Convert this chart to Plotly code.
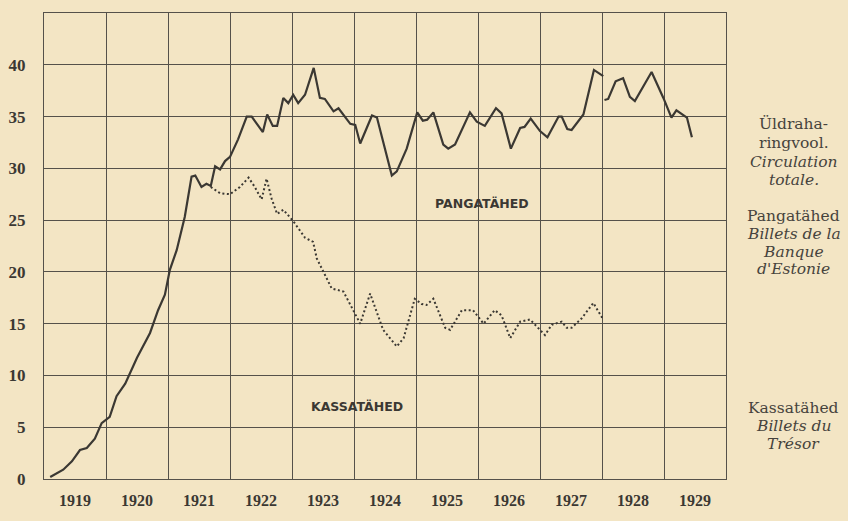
import plotly.graph_objects as go

# Total circulation (Üldraharingvool), million, by decimal year
total_x = [1919.10, 1919.31, 1919.45, 1919.58, 1919.69, 1919.82, 1919.93, 1920.06, 1920.17, 1920.31,
           1920.50, 1920.71, 1920.84, 1920.95, 1921.03, 1921.14, 1921.27, 1921.38, 1921.44, 1921.54,
           1921.62, 1921.69, 1921.76, 1921.84, 1921.92, 1922.00, 1922.13, 1922.27, 1922.35, 1922.53,
           1922.60, 1922.69, 1922.76, 1922.86, 1922.94, 1923.02, 1923.10, 1923.21, 1923.35, 1923.45,
           1923.53, 1923.67, 1923.75, 1923.94, 1924.02, 1924.10, 1924.29, 1924.37, 1924.61, 1924.69,
           1924.85, 1925.02, 1925.11, 1925.18, 1925.28, 1925.44, 1925.52, 1925.63, 1925.87, 1925.98,
           1926.11, 1926.29, 1926.38, 1926.53, 1926.68, 1926.75, 1926.85, 1927.00, 1927.12, 1927.30,
           1927.35, 1927.44, 1927.51, 1927.70, 1927.87, 1928.02, 1928.03, 1928.04, 1928.10, 1928.22,
           1928.34, 1928.45, 1928.53, 1928.80, 1928.99, 1929.12, 1929.20, 1929.37, 1929.45]
total_y = [0.2, 0.9, 1.7, 2.8, 3.0, 3.9, 5.4, 6.0, 8.0, 9.2,
           11.7, 14.1, 16.3, 17.8, 20.2, 22.1, 25.3, 29.2, 29.3, 28.2,
           28.5, 28.3, 30.2, 29.9, 30.7, 31.1, 32.8, 35.0, 35.0, 33.5,
           35.2, 34.1, 34.1, 36.8, 36.3, 37.1, 36.3, 37.1, 39.7, 36.8,
           36.7, 35.5, 35.8, 34.3, 34.2, 32.4, 35.1, 34.9, 29.3, 29.7,
           31.9, 35.4, 34.6, 34.7, 35.4, 32.3, 31.9, 32.3, 35.4, 34.5,
           34.1, 35.8, 35.3, 31.9, 33.9, 34.0, 34.8, 33.6, 33.0, 35.0,
           35.0, 33.8, 33.7, 35.2, 39.5, 38.9, None, 36.6, 36.7, 38.4,
           38.7, 36.9, 36.5, 39.3, 36.8, 34.9, 35.6, 34.9, 33.0]

# Treasury notes (Kassatähed), million
treasury_x = [1921.69, 1921.84, 1922.00, 1922.16, 1922.30, 1922.40, 1922.51, 1922.59, 1922.67, 1922.76,
              1922.86, 1923.02, 1923.21, 1923.34, 1923.40, 1923.53, 1923.64, 1923.83, 1923.99, 1924.10,
              1924.26, 1924.47, 1924.69, 1924.80, 1924.98, 1925.09, 1925.17, 1925.28, 1925.47, 1925.55,
              1925.74, 1925.92, 1926.09, 1926.27, 1926.38, 1926.52, 1926.68, 1926.84, 1927.08, 1927.19,
              1927.35, 1927.43, 1927.51, 1927.67, 1927.86, 1928.02]
treasury_y = [28.2, 27.6, 27.5, 28.2, 29.1, 28.2, 27.0, 29.0, 27.1, 25.6,
              26.0, 24.9, 23.3, 22.9, 21.3, 19.7, 18.4, 18.1, 16.3, 15.0,
              17.9, 14.4, 12.8, 13.6, 17.4, 16.9, 16.8, 17.4, 14.6, 14.4,
              16.3, 16.3, 15.0, 16.3, 15.8, 13.6, 15.2, 15.4, 13.9, 14.9,
              15.2, 14.6, 14.6, 15.5, 17.0, 15.4]

years = list(range(1919, 1930))
year_labels = [str(y) for y in years]
y_ticks = [0, 5, 10, 15, 20, 25, 30, 35, 40]

INK = "#3b3833"
GRID = "#55514a"
PAPER = "#f3e5c4"

fig = go.Figure()
fig.add_trace(go.Scatter(x=total_x, y=total_y, mode="lines",
                         line=dict(color=INK, width=2.2), connectgaps=False,
                         showlegend=False, hoverinfo="skip"))
fig.add_trace(go.Scatter(x=treasury_x, y=treasury_y, mode="lines",
                         line=dict(color=INK, width=2, dash="2px,2.5px"),
                         showlegend=False, hoverinfo="skip"))

fig.update_layout(
    width=848, height=521,
    margin=dict(l=44, r=122, t=13, b=42, autoexpand=False),
    paper_bgcolor=PAPER, plot_bgcolor=PAPER,
    font=dict(family="Liberation Serif", color=INK),
)
fig.update_xaxes(
    range=[1919, 1930], automargin=False,
    tickvals=[y + 0.5 for y in years], ticktext=year_labels,
    ticks="", showgrid=False, zeroline=False,
    minor=dict(tick0=1919, dtick=1, showgrid=True, gridcolor=GRID, gridwidth=1.2),
    showline=True, mirror=True, linecolor=GRID, linewidth=1.3,
    tickfont=dict(family="Liberation Serif", size=16, color=INK, weight="bold"),
    ticklabelstandoff=7,
)
fig.update_yaxes(
    range=[0, 45], automargin=False,
    tickvals=y_ticks, ticktext=[str(v) for v in y_ticks],
    ticks="", showgrid=True, gridcolor=GRID, gridwidth=1.2, zeroline=False,
    showline=True, mirror=True, linecolor=GRID, linewidth=1.3,
    tickfont=dict(family="Liberation Serif", size=17, color=INK, weight="bold"),
    ticklabelstandoff=14,
)

def px2paper(px, py):
    return (px - 44) / 682.0, (479 - py) / 466.0

right_lines = [
    ("Üldraha-", 124, False), ("ringvool.", 143, False),
    ("Circulation", 162, True), ("totale.", 180, True),
    ("Pangatähed", 216, False), ("Billets de la", 234, True),
    ("Banque", 252, True), ("d'Estonie", 269, True),
    ("Kassatähed", 408, False), ("Billets du", 426, True), ("Trésor", 444, True),
]
for txt, py, it in right_lines:
    xp, yp = px2paper(794, py)
    fig.add_annotation(x=xp, y=yp, xref="paper", yref="paper", text=txt,
                       showarrow=False, xanchor="center", yanchor="middle",
                       font=dict(family="DejaVu Serif", size=15.5, color="#46433d",
                                 style="italic" if it else "normal"))

for txt, px, py in [("PANGATÄHED", 482, 204), ("KASSATÄHED", 357, 406)]:
    xp, yp = px2paper(px, py)
    fig.add_annotation(x=xp, y=yp, xref="paper", yref="paper", text=txt,
                       showarrow=False, xanchor="center", yanchor="middle",
                       font=dict(family="DejaVu Sans", size=12.5, color=INK, weight="bold"))

fig.write_html(
    "out.html",
    config={"displayModeBar": False},
    post_script="document.body.style.margin='0';document.body.style.background='%s';"
                "document.body.style.overflow='hidden';" % PAPER,
)
